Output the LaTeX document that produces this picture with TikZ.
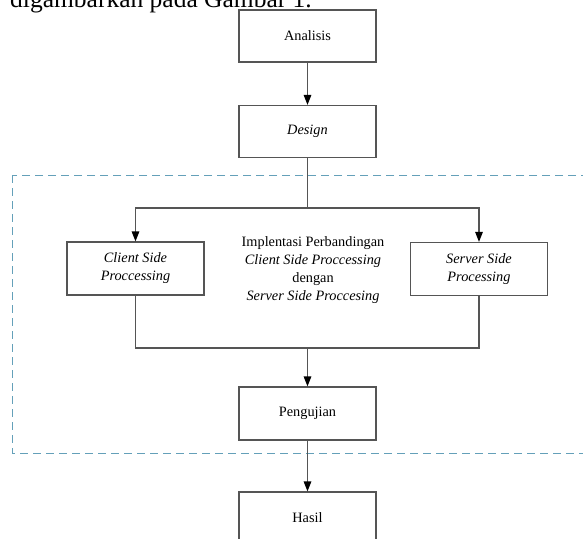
\documentclass[tikz,border=0pt]{standalone}
\usepackage{fontspec}
\setmainfont{Liberation Serif}
\usetikzlibrary{arrows.meta}
\definecolor{framecol}{RGB}{100,160,185}
\definecolor{linecol}{RGB}{85,85,85}
\begin{document}
\begin{tikzpicture}[x=1pt,y=-1pt,
  stagebox/.style={draw=linecol, line width=1.2pt, fill=white,
    minimum width=137pt, minimum height=52pt, inner sep=0pt,
    align=center, font=\fontsize{14.3}{18}\selectfont},
  link/.style={draw=linecol, line width=1.3pt},
  arr/.style={link, -{Triangle[length=10pt,width=7.5pt,color=black]}},
  groupframe/.style={draw=framecol, line width=1pt, dash pattern=on 8pt off 5pt},
  caption/.style={font=\fontsize{25.5}{30}\selectfont, inner sep=0pt, anchor=base west}]
\useasboundingbox (0,0) rectangle (583,538);
\begin{scope}
\clip (0,0) rectangle (583,538);
\fill[white] (0,0) rectangle (583,538);

% running text above the diagram
\node[caption] (lead) at (10,7) {digambarkan pada Gambar 1.};

% dashed group around the implementation and testing stages
\draw[groupframe] (12,175) rectangle (640,453);

% stages
\node[stagebox] (analisis) at (307.5,36) {Analisis};
\node[stagebox] (design) at (307.5,131.5) {\itshape Design};
\node[stagebox, minimum height=53pt] (client) at (135.5,268.5) {\itshape Client Side\\\itshape Proccessing};
\node[stagebox, minimum height=53pt] (server) at (479,269) {\itshape Server Side\\\itshape Processing};
\node[stagebox, minimum height=53pt] (uji) at (307.5,413.5) {Pengujian};
\node[stagebox] (hasil) at (307.5,518) {Hasil};

\node[align=center, inner sep=0pt, font=\fontsize{14.3}{18}\selectfont] (note) at (313,270)
  {Implentasi Perbandingan\\\itshape Client Side Proccessing\\dengan\\\itshape Server Side Proccesing};

% connectors
\coordinate (split) at (307.5,208);
\coordinate (join) at (307.5,348);
\draw[arr] (analisis) -- (design);
\draw[link] (design) -- (split);
\draw[arr] (split) -| (client);
\draw[arr] (split) -| (server);
\draw[link] (client) |- (join);
\draw[link] (server) |- (join);
\draw[arr] (join) -- (uji);
\draw[arr] (uji) -- (hasil);
\end{scope}
\end{tikzpicture}
\end{document}
